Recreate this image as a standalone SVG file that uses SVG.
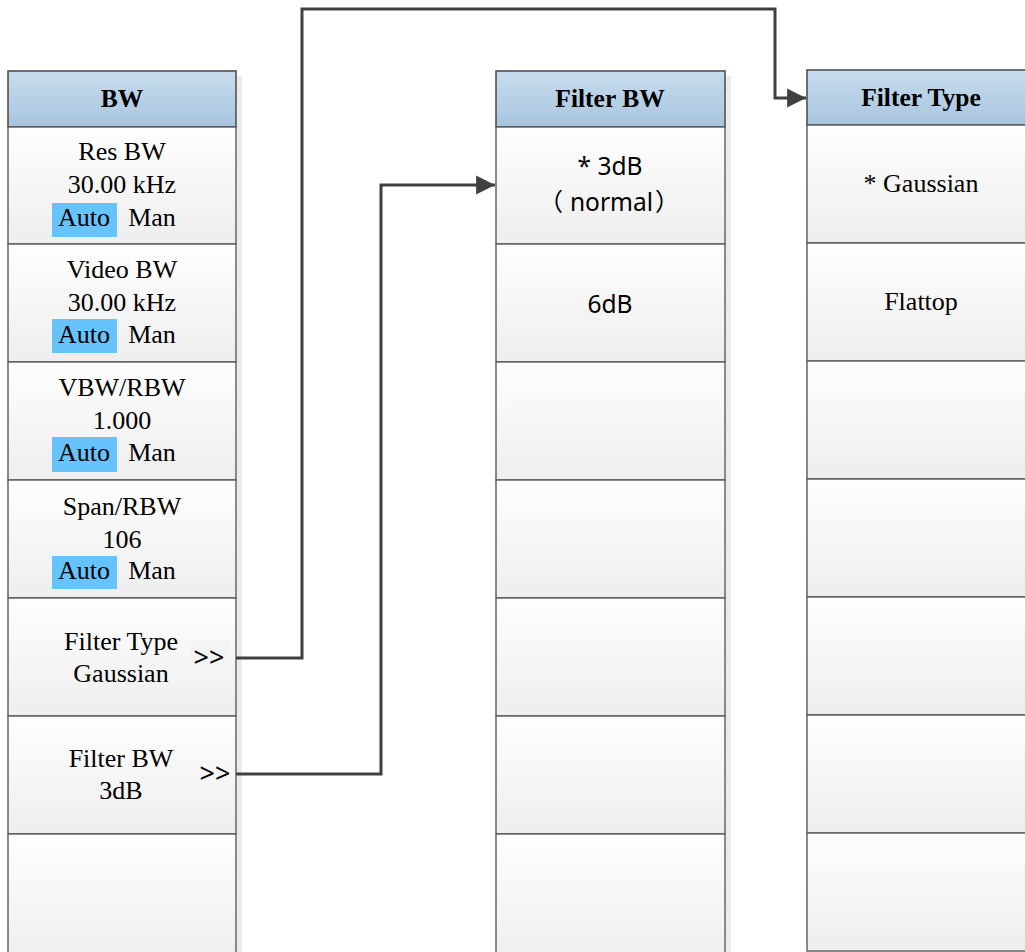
<svg xmlns="http://www.w3.org/2000/svg" width="1025" height="952" viewBox="0 0 1025 952">
<defs>
<linearGradient id="hdr" x1="0" y1="0" x2="0" y2="1">
<stop offset="0" stop-color="#c8dcee"/>
<stop offset="1" stop-color="#a8c5de"/>
</linearGradient>
<linearGradient id="cell" x1="0" y1="0" x2="0" y2="1">
<stop offset="0" stop-color="#fefefe"/>
<stop offset="1" stop-color="#eeeeee"/>
</linearGradient>
<marker id="arr" markerWidth="7" markerHeight="7" refX="6.3" refY="3.5" orient="auto" markerUnits="strokeWidth">
<path d="M0,0.3 L6.3,3.5 L0,6.7 Z" fill="#404040"/>
</marker>
<style>
.hdr{fill:url(#hdr);stroke:#505050;stroke-width:1.6}
.cell{fill:url(#cell);stroke:#5a5a5a;stroke-width:1.4}
.shadow{fill:#ebebeb}
.ht{font-family:"Liberation Serif",serif;font-weight:bold;font-size:25.5px;fill:#000;text-anchor:middle}
.t{font-family:"Liberation Serif",serif;font-size:26px;fill:#000;text-anchor:middle}
.s{font-family:"Noto Sans","Noto Sans CJK SC",sans-serif;font-size:24.5px;fill:#000;text-anchor:middle}
.cjk{font-family:"Noto Sans CJK SC",sans-serif}
.gt{font-family:"Noto Sans",sans-serif;font-size:27px;fill:#000;text-anchor:middle}
.hl{fill:#66c3fb}
.conn{fill:none;stroke:#404040;stroke-width:3}
</style>
</defs>

<g id="col-bw">
<rect class="shadow" x="237" y="76" width="5" height="876"/>
<rect class="hdr" x="8" y="71" width="228" height="56"/>
<text class="ht" x="122" y="107">BW</text>
<rect class="cell" x="8" y="127" width="228" height="117"/>
<rect class="cell" x="8" y="244" width="228" height="118"/>
<rect class="cell" x="8" y="362" width="228" height="118"/>
<rect class="cell" x="8" y="480" width="228" height="118"/>
<rect class="cell" x="8" y="598" width="228" height="118"/>
<rect class="cell" x="8" y="716" width="228" height="118"/>
<rect class="cell" x="8" y="834" width="228" height="130"/>
</g>

<g id="node-resbw">
<text class="t" x="122" y="160">Res BW</text>
<text class="t" x="122" y="193">30.00 kHz</text>
<rect class="hl" x="52" y="203" width="65" height="34"/>
<text class="t" x="84" y="226">Auto</text>
<text class="t" x="152" y="226">Man</text>
</g>
<g id="node-videobw">
<text class="t" x="122" y="278">Video BW</text>
<text class="t" x="122" y="311">30.00 kHz</text>
<rect class="hl" x="52" y="319" width="65" height="34"/>
<text class="t" x="84" y="343">Auto</text>
<text class="t" x="152" y="343">Man</text>
</g>
<g id="node-vbwrbw">
<text class="t" x="122" y="396">VBW/RBW</text>
<text class="t" x="122" y="429">1.000</text>
<rect class="hl" x="52" y="437" width="65" height="35"/>
<text class="t" x="84" y="461">Auto</text>
<text class="t" x="152" y="461">Man</text>
</g>
<g id="node-spanrbw">
<text class="t" x="122" y="515">Span/RBW</text>
<text class="t" x="122" y="548">106</text>
<rect class="hl" x="52" y="556" width="65" height="33"/>
<text class="t" x="84" y="579">Auto</text>
<text class="t" x="152" y="579">Man</text>
</g>
<g id="node-filtertype">
<text class="t" x="121" y="650">Filter Type</text>
<text class="t" x="121" y="682">Gaussian</text>
<rect x="191" y="640" width="38" height="34" fill="#f4f4f4"/>
<text class="gt" x="209" y="667">&gt;&gt;</text>
</g>
<g id="node-filterbw">
<text class="t" x="121" y="767">Filter BW</text>
<text class="t" x="121" y="799">3dB</text>
<text class="gt" x="215" y="783">&gt;&gt;</text>
</g>

<g id="col-filterbw">
<rect class="shadow" x="726" y="76" width="5" height="876"/>
<rect class="hdr" x="496" y="71" width="229" height="56"/>
<text class="ht" x="610" y="107">Filter BW</text>
<rect class="cell" x="496" y="127" width="229" height="117"/>
<rect class="cell" x="496" y="244" width="229" height="118"/>
<rect class="cell" x="496" y="362" width="229" height="118"/>
<rect class="cell" x="496" y="480" width="229" height="118"/>
<rect class="cell" x="496" y="598" width="229" height="118"/>
<rect class="cell" x="496" y="716" width="229" height="118"/>
<rect class="cell" x="496" y="834" width="229" height="130"/>
</g>
<g id="node-3db">
<text class="s" x="610" y="175">* 3dB</text>
<text class="s" x="609" y="211"><tspan class="cjk">（</tspan><tspan dx="7">normal</tspan><tspan class="cjk" dx="2">）</tspan></text>
</g>
<g id="node-6db">
<text class="s" x="610" y="313">6dB</text>
</g>

<g id="col-filtertype">
<rect class="hdr" x="807" y="70" width="230" height="55"/>
<text class="ht" x="921" y="106">Filter Type</text>
<rect class="cell" x="807" y="125" width="230" height="118"/>
<rect class="cell" x="807" y="243" width="230" height="118"/>
<rect class="cell" x="807" y="361" width="230" height="118"/>
<rect class="cell" x="807" y="479" width="230" height="118"/>
<rect class="cell" x="807" y="597" width="230" height="118"/>
<rect class="cell" x="807" y="715" width="230" height="118"/>
<rect class="cell" x="807" y="833" width="230" height="118"/>
</g>
<g id="node-gaussian">
<text class="t" x="921" y="192">* Gaussian</text>
</g>
<g id="node-flattop">
<text class="t" x="921" y="310">Flattop</text>
</g>

<g id="connectors">
<path class="conn" d="M236,658 H302 V9 H775 V98 H806" marker-end="url(#arr)"/>
<path class="conn" d="M236,774 H381 V185 H495" marker-end="url(#arr)"/>
</g>
</svg>
